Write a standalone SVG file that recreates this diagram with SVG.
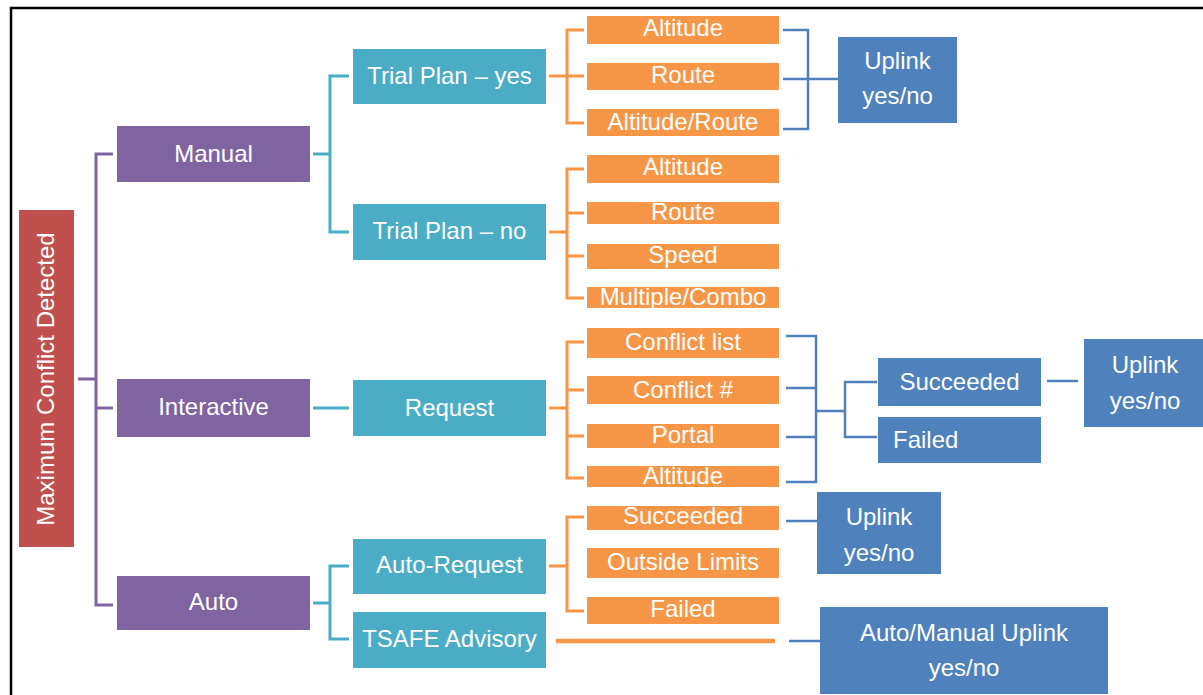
<svg xmlns="http://www.w3.org/2000/svg" width="1203" height="695" viewBox="0 0 1203 695">
<style>
text{font-family:"Liberation Sans",Arial,sans-serif;font-size:24px;fill:#fff;text-anchor:middle}
.red{fill:#C0504D}.pur{fill:#8064A2}.teal{fill:#4BACC6}.org{fill:#F79646}.blu{fill:#4F81BD}
.lp{fill:none;stroke:#8064A2;stroke-width:3}
.lt{fill:none;stroke:#4BACC6;stroke-width:3}
.lo{fill:none;stroke:#F79646;stroke-width:3}
.lb{fill:none;stroke:#4F81BD;stroke-width:2.5}
</style>
<rect width="1203" height="695" fill="#fff"/>
<path d="M11,700 V8 H1203" fill="none" stroke="#000" stroke-width="2.5"/>
<g id="connectors">
  <path class="lp" d="M78,379 H96 M113,154 H96 V605 H113 M96,408 H113"/>
  <path class="lt" d="M313,154 H330 M349,76 H330 V232 H349 M313,408 H349 M313,603 H330 M349,566 H330 V639 H349"/>
  <path class="lo" d="M549,76 H567 M584,30 H567 V123 H584 M567,76 H584"/>
  <path class="lo" d="M549,232 H567 M584,169 H567 V298 H584 M567,213 H584 M567,256 H584"/>
  <path class="lo" d="M549,408 H567 M584,342 H567 V478 H584 M567,390 H584 M567,436 H584"/>
  <path class="lo" d="M549,566 H567 M584,517 H567 V611 H584"/>
  <path d="M556,641 H775" fill="none" stroke="#F79646" stroke-width="4.5"/>
  <path class="lb" d="M783,30 H808 V129 H783 M783,79 H838"/>
  <path class="lb" d="M786,336 H816 V482 H786 M786,388 H816 M786,437 H816 M816,411 H845 M877,382 H845 V437 H877"/>
  <path class="lb" d="M1047,381 H1078"/>
  <path class="lb" d="M786,521 H817"/>
  <path class="lb" d="M789,641 H820"/>
</g>
<g id="root"><rect class="red" x="19" y="210" width="55" height="337"/><text transform="translate(54,379) rotate(-90)">Maximum Conflict Detected</text></g>
<g id="manual"><rect class="pur" x="117" y="126" width="193" height="56"/><text x="213.5" y="162">Manual</text></g>
<g id="interactive"><rect class="pur" x="117" y="379" width="193" height="58"/><text x="213.5" y="415">Interactive</text></g>
<g id="auto"><rect class="pur" x="117" y="576" width="193" height="54"/><text x="213.5" y="610">Auto</text></g>
<g id="trial-yes"><rect class="teal" x="353" y="49" width="193" height="55"/><text x="449.5" y="84">Trial Plan – yes</text></g>
<g id="trial-no"><rect class="teal" x="353" y="204" width="193" height="56"/><text x="449.5" y="239">Trial Plan – no</text></g>
<g id="request"><rect class="teal" x="353" y="380" width="193" height="56"/><text x="449.5" y="416">Request</text></g>
<g id="auto-request"><rect class="teal" x="353" y="539" width="193" height="55"/><text x="449.5" y="573">Auto-Request</text></g>
<g id="tsafe"><rect class="teal" x="353" y="612" width="193" height="56"/><text x="449.5" y="647">TSAFE Advisory</text></g>
<g id="ty-altitude"><rect class="org" x="587" y="16" width="192" height="28"/><text x="683" y="36">Altitude</text></g>
<g id="ty-route"><rect class="org" x="587" y="63" width="192" height="27"/><text x="683" y="83">Route</text></g>
<g id="ty-altroute"><rect class="org" x="587" y="109" width="192" height="27"/><text x="683" y="130">Altitude/Route</text></g>
<g id="tn-altitude"><rect class="org" x="587" y="155" width="192" height="28"/><text x="683" y="175">Altitude</text></g>
<g id="tn-route"><rect class="org" x="587" y="202" width="192" height="22"/><text x="683" y="220">Route</text></g>
<g id="tn-speed"><rect class="org" x="587" y="244" width="192" height="25"/><text x="683" y="263">Speed</text></g>
<g id="tn-multi"><rect class="org" x="587" y="287" width="192" height="21"/><text x="683" y="305">Multiple/Combo</text></g>
<g id="rq-list"><rect class="org" x="587" y="328" width="192" height="30"/><text x="683" y="350">Conflict list</text></g>
<g id="rq-num"><rect class="org" x="587" y="376" width="192" height="28"/><text x="683" y="398">Conflict #</text></g>
<g id="rq-portal"><rect class="org" x="587" y="424" width="192" height="24"/><text x="683" y="443">Portal</text></g>
<g id="rq-altitude"><rect class="org" x="587" y="466" width="192" height="21"/><text x="683" y="484">Altitude</text></g>
<g id="ar-succeeded"><rect class="org" x="587" y="506" width="192" height="24"/><text x="683" y="524">Succeeded</text></g>
<g id="ar-outside"><rect class="org" x="587" y="548" width="192" height="30"/><text x="683" y="570">Outside Limits</text></g>
<g id="ar-failed"><rect class="org" x="587" y="597" width="192" height="27"/><text x="683" y="617">Failed</text></g>
<g id="uplink1"><rect class="blu" x="838" y="37" width="119" height="86"/><text x="897.5" y="69">Uplink</text><text x="897.5" y="104">yes/no</text></g>
<g id="int-succeeded"><rect class="blu" x="878" y="358" width="163" height="48"/><text x="959.5" y="390">Succeeded</text></g>
<g id="int-failed"><rect class="blu" x="878" y="417" width="163" height="46"/><text x="893" y="448" style="text-anchor:start">Failed</text></g>
<g id="uplink2"><rect class="blu" x="1084" y="339" width="119" height="88"/><text x="1145" y="373">Uplink</text><text x="1145" y="409">yes/no</text></g>
<g id="uplink3"><rect class="blu" x="817" y="492" width="124" height="82"/><text x="879" y="525">Uplink</text><text x="879" y="561">yes/no</text></g>
<g id="uplink-auto"><rect class="blu" x="820" y="607" width="288" height="87"/><text x="964" y="641">Auto/Manual Uplink</text><text x="964" y="676">yes/no</text></g>
</svg>
